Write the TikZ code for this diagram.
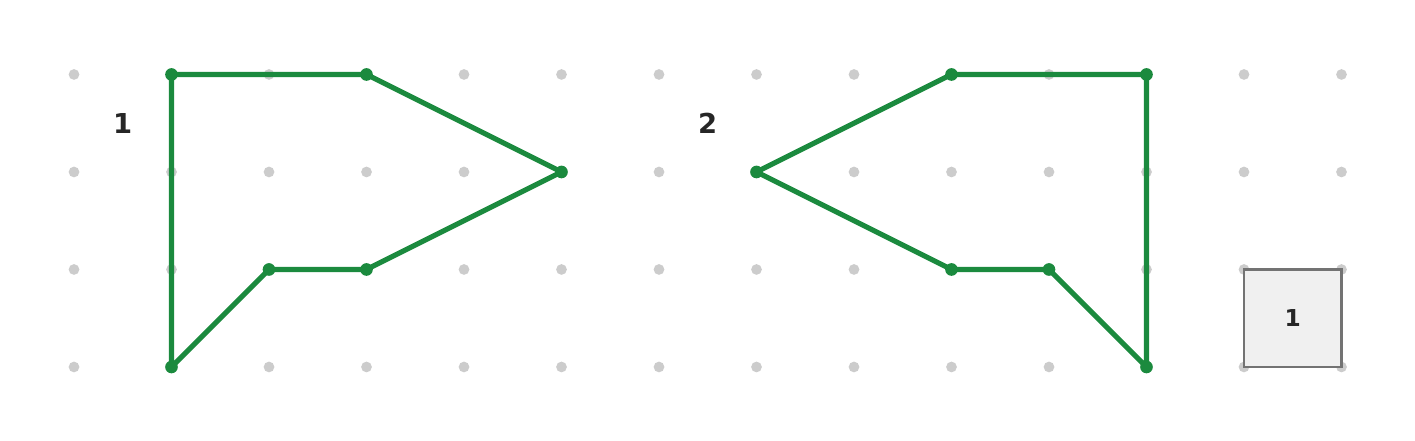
\documentclass[tikz,border=0pt]{standalone}
\usepackage{fontspec}
\setmainfont{DejaVu Sans}
\usetikzlibrary{positioning}
\definecolor{shapegreen}{HTML}{1B8A3E}
\definecolor{dotgray}{HTML}{CCCCCC}
\tikzset{
  griddot/.style={circle, fill=dotgray, inner sep=0pt, minimum size=0.11cm},
  vert/.style={circle, fill=shapegreen, inner sep=0pt, minimum size=0.13cm},
  edge/.style={shapegreen, line width=1.5pt, line join=round},
  lbl/.style={font=\bfseries\fontsize{8}{9}\selectfont, text=black!85}
}
\begin{document}
\begin{tikzpicture}
        \useasboundingbox (-0.759,-0.759) rectangle (13.754,3.764);
        % Grid
        \foreach \x in {0,...,13}
          \foreach \y in {0,...,3}
            \node (g\x-\y) [griddot] at (\x,\y) {};

        % Unit square
        \node (unit) [draw=black!55, fill=black!6, line width=0.8pt, minimum size=1cm, inner sep=0pt,
          font=\bfseries\fontsize{6.8}{8}\selectfont, text=black!85] at (12.5,0.5) {1};

        % Shape 1
        \node (a1) [vert] at (1,3) {};
        \node (a2) [vert] at (3,3) {};
        \node (a3) [vert] at (5,2) {};
        \node (a4) [vert] at (3,1) {};
        \node (a5) [vert] at (2,1) {};
        \node (a6) [vert] at (1,0) {};
        \draw [edge] (a1.center) -- (a2.center) -- (a3.center) -- (a4.center) -- (a5.center) -- (a6.center) -- cycle;
        \node (l1) [lbl] at (0.5,2.5) {1};

        % Shape 2
        \node (b1) [vert] at (9,3) {};
        \node (b2) [vert] at (11,3) {};
        \node (b3) [vert] at (11,0) {};
        \node (b4) [vert] at (10,1) {};
        \node (b5) [vert] at (9,1) {};
        \node (b6) [vert] at (7,2) {};
        \draw [edge] (b1.center) -- (b2.center) -- (b3.center) -- (b4.center) -- (b5.center) -- (b6.center) -- cycle;
        \node (l2) [lbl] at (6.5,2.5) {2};
\end{tikzpicture}
\end{document}
